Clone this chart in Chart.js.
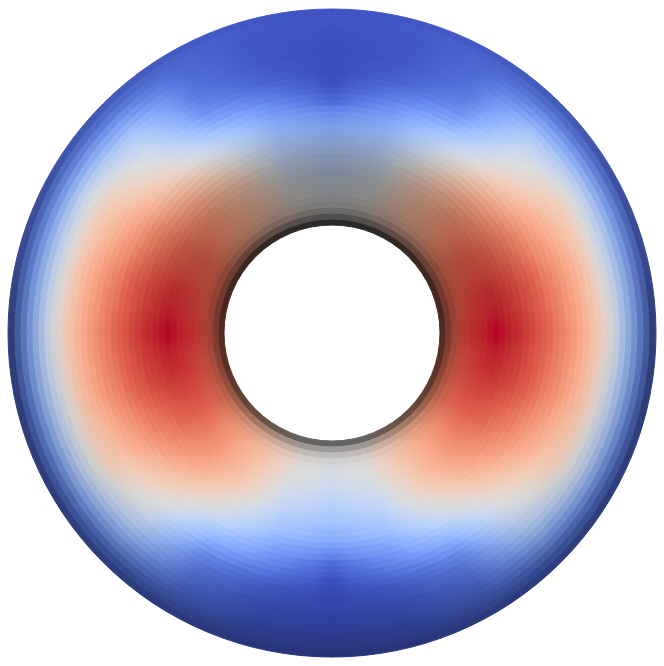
<!DOCTYPE html>
<html>
<head>
<meta charset="utf-8">
<script src="https://cdn.jsdelivr.net/npm/chart.js@4/dist/chart.umd.min.js"></script>
<style>
  html, body { margin: 0; padding: 0; background: #ffffff; }
  #wrap { width: 664px; height: 666px; }
</style>
</head>
<body>
<div id="wrap"><canvas id="torus" width="664" height="666"></canvas></div>
<script>
// Ring mid radii (px): 36 rings of 6 px between the hole (108 px) and the rim (324 px).
const ringRadius = [111, 117, 123, 129, 135, 141, 147, 153, 159, 165, 171, 177,
                    183, 189, 195, 201, 207, 213, 219, 225, 231, 237, 243, 249,
                    255, 261, 267, 273, 279, 285, 291, 297, 303, 309, 315, 321];

// Angle from the horizontal axis (deg); each quadrant repeats the same field.
const fieldAngles = [0, 15, 30, 45, 60, 75, 90];

// Normalised scalar (0 = cool, 1 = warm) per ring, inner to outer, one array per angle.
const field0  = [0.82, 0.86, 0.89, 0.92, 0.94, 0.96, 0.97, 0.98, 0.99, 1.00, 0.99, 0.98,
                 0.97, 0.96, 0.94, 0.92, 0.90, 0.88, 0.86, 0.83, 0.81, 0.78, 0.75, 0.72,
                 0.68, 0.64, 0.60, 0.55, 0.50, 0.45, 0.38, 0.32, 0.26, 0.20, 0.15, 0.10];
const field15 = [0.815, 0.845, 0.87, 0.89, 0.91, 0.93, 0.94, 0.95, 0.955, 0.955, 0.95, 0.94,
                 0.93, 0.92, 0.90, 0.89, 0.87, 0.85, 0.82, 0.80, 0.78, 0.75, 0.72, 0.69,
                 0.66, 0.62, 0.57, 0.52, 0.47, 0.42, 0.36, 0.30, 0.24, 0.18, 0.13, 0.09];
const field30 = [0.77, 0.80, 0.83, 0.85, 0.86, 0.87, 0.88, 0.88, 0.88, 0.87, 0.865, 0.855,
                 0.84, 0.825, 0.81, 0.795, 0.775, 0.75, 0.73, 0.71, 0.69, 0.665, 0.64, 0.62,
                 0.60, 0.58, 0.54, 0.50, 0.46, 0.41, 0.35, 0.29, 0.23, 0.17, 0.12, 0.08];
const field45 = [0.69, 0.71, 0.72, 0.74, 0.745, 0.75, 0.755, 0.76, 0.76, 0.755, 0.745, 0.735,
                 0.72, 0.705, 0.68, 0.655, 0.635, 0.61, 0.58, 0.56, 0.535, 0.51, 0.49, 0.47,
                 0.45, 0.43, 0.40, 0.38, 0.35, 0.315, 0.27, 0.225, 0.18, 0.135, 0.10, 0.07];
const field60 = [0.605, 0.615, 0.625, 0.63, 0.635, 0.64, 0.635, 0.63, 0.62, 0.61, 0.60, 0.585,
                 0.565, 0.54, 0.515, 0.49, 0.46, 0.43, 0.395, 0.35, 0.31, 0.27, 0.23, 0.195,
                 0.16, 0.14, 0.12, 0.105, 0.095, 0.09, 0.08, 0.075, 0.07, 0.065, 0.06, 0.05];
const field75 = [0.52, 0.525, 0.53, 0.525, 0.52, 0.51, 0.50, 0.485, 0.47, 0.45, 0.43, 0.41,
                 0.39, 0.365, 0.34, 0.315, 0.29, 0.26, 0.23, 0.20, 0.17, 0.145, 0.115, 0.09,
                 0.065, 0.045, 0.035, 0.03, 0.02, 0.02, 0.02, 0.02, 0.02, 0.025, 0.03, 0.03];
const field90 = [0.50, 0.50, 0.495, 0.49, 0.48, 0.47, 0.455, 0.44, 0.42, 0.40, 0.38, 0.36,
                 0.34, 0.32, 0.29, 0.265, 0.24, 0.20, 0.16, 0.12, 0.07, 0.045, 0.025, 0.01,
                 0.005, 0.0, 0.0, 0.0, 0.0, 0.0, 0.005, 0.01, 0.01, 0.015, 0.02, 0.02];
const fieldByAngle = [field0, field15, field30, field45, field60, field75, field90];

// Surface brightness per ring where the tube faces up, sideways and down in the view.
const shadeTop    = [0.18, 0.36, 0.48, 0.55, 0.58, 0.60, 0.61, 0.62, 0.63, 0.65, 0.68, 0.71,
                     0.75, 0.79, 0.83, 0.87, 0.91, 0.94, 0.97, 0.99, 1.00, 1.00, 1.00, 1.00,
                     1.00, 1.00, 1.00, 1.00, 1.00, 1.00, 1.00, 1.00, 1.00, 1.00, 1.00, 0.98];
const shadeSide   = [0.35, 0.55, 0.72, 0.84, 0.91, 0.95, 0.98, 1.00, 1.00, 1.00, 1.00, 1.00,
                     1.00, 1.00, 1.00, 1.00, 1.00, 1.00, 1.00, 1.00, 1.00, 1.00, 1.00, 1.00,
                     1.00, 0.99, 0.98, 0.97, 0.95, 0.93, 0.90, 0.86, 0.81, 0.74, 0.65, 0.52];
const shadeBottom = [0.45, 0.70, 0.86, 0.94, 0.98, 1.00, 1.00, 1.00, 1.00, 1.00, 1.00, 1.00,
                     1.00, 1.00, 1.00, 1.00, 1.00, 1.00, 1.00, 1.00, 1.00, 1.00, 0.99, 0.97,
                     0.95, 0.93, 0.90, 0.88, 0.85, 0.82, 0.79, 0.76, 0.72, 0.68, 0.64, 0.60];

// Diverging cool-to-warm colour map, 33 evenly spaced entries.
const coolWarm = [
  [59,76,192],[68,90,204],[77,104,215],[87,117,225],[98,130,234],[108,142,241],[119,154,247],[130,165,251],
  [141,176,254],[152,185,255],[163,194,255],[174,201,253],[184,208,249],[194,213,244],[204,217,238],[213,219,230],
  [221,221,221],[229,216,209],[236,211,197],[241,204,184],[245,196,173],[247,187,160],[247,177,148],[247,166,135],
  [244,154,123],[241,141,111],[236,127,99],[229,112,88],[222,96,77],[213,80,66],[203,62,56],[192,40,47],[180,4,38]
];

const INNER = 108, OUTER = 324;
const GRADIENT_STEP = 5; // degrees between colour stops around each ring

function mapColor(s) {
  const t = Math.max(0, Math.min(1, s)) * (coolWarm.length - 1);
  const i = Math.min(Math.floor(t), coolWarm.length - 2);
  const f = t - i;
  const a = coolWarm[i], b = coolWarm[i + 1];
  return [a[0] + (b[0] - a[0]) * f, a[1] + (b[1] - a[1]) * f, a[2] + (b[2] - a[2]) * f];
}

// Scalar at a folded angle (0..90 deg) on one ring; blended before colour mapping.
function scalarAt(ringIndex, foldedDeg) {
  const step = fieldAngles[1] - fieldAngles[0];
  const pos = foldedDeg / step;
  const i = Math.min(Math.floor(pos), fieldAngles.length - 2);
  const f = pos - i;
  return fieldByAngle[i][ringIndex] * (1 - f) + fieldByAngle[i + 1][ringIndex] * f;
}

// Brightness at a screen angle: blend from the side profile towards the up or down profile.
function shadeAt(ringIndex, angleRad) {
  const up = -Math.sin(angleRad);
  const side = shadeSide[ringIndex];
  const end = up >= 0 ? shadeTop[ringIndex] : shadeBottom[ringIndex];
  return side + (end - side) * Math.abs(up);
}

const gradientCache = {};
function ringGradient(chart, ringIndex) {
  const area = chart.chartArea;
  if (!area) return '#dddddd';
  const cx = (area.left + area.right) / 2, cy = (area.top + area.bottom) / 2;
  const key = ringIndex + ':' + cx + ':' + cy;
  if (gradientCache[key]) return gradientCache[key];
  const g = chart.ctx.createConicGradient(0, cx, cy);
  const steps = 360 / GRADIENT_STEP;
  for (let k = 0; k <= steps; k++) {
    const deg = (k * GRADIENT_STEP) % 360;
    let b = deg % 180;
    if (b > 90) b = 180 - b;
    const base = mapColor(scalarAt(ringIndex, b));
    const sh = shadeAt(ringIndex, deg * Math.PI / 180);
    const rgb = base.map(v => Math.round(v * sh));
    g.addColorStop(k / steps, `rgb(${rgb[0]},${rgb[1]},${rgb[2]})`);
  }
  gradientCache[key] = g;
  return g;
}

// Doughnut datasets run from the outermost ring inwards.
const order = ringRadius.map((_, i) => ringRadius.length - 1 - i);
const datasets = order.map(ri => ({
  label: 'r' + ringRadius[ri],
  data: [1],
  backgroundColor: (ctx) => ringGradient(ctx.chart, ri),
  borderColor: (ctx) => ringGradient(ctx.chart, ri),
  borderWidth: 1,
  hoverOffset: 0
}));

new Chart(document.getElementById('torus'), {
  type: 'doughnut',
  data: { labels: ['field'], datasets },
  options: {
    responsive: false,
    animation: false,
    events: [],
    radius: OUTER,
    cutout: (INNER / OUTER * 100) + '%',
    layout: { padding: 0 },
    plugins: { legend: { display: false }, tooltip: { enabled: false } }
  }
});
</script>
</body>
</html>
